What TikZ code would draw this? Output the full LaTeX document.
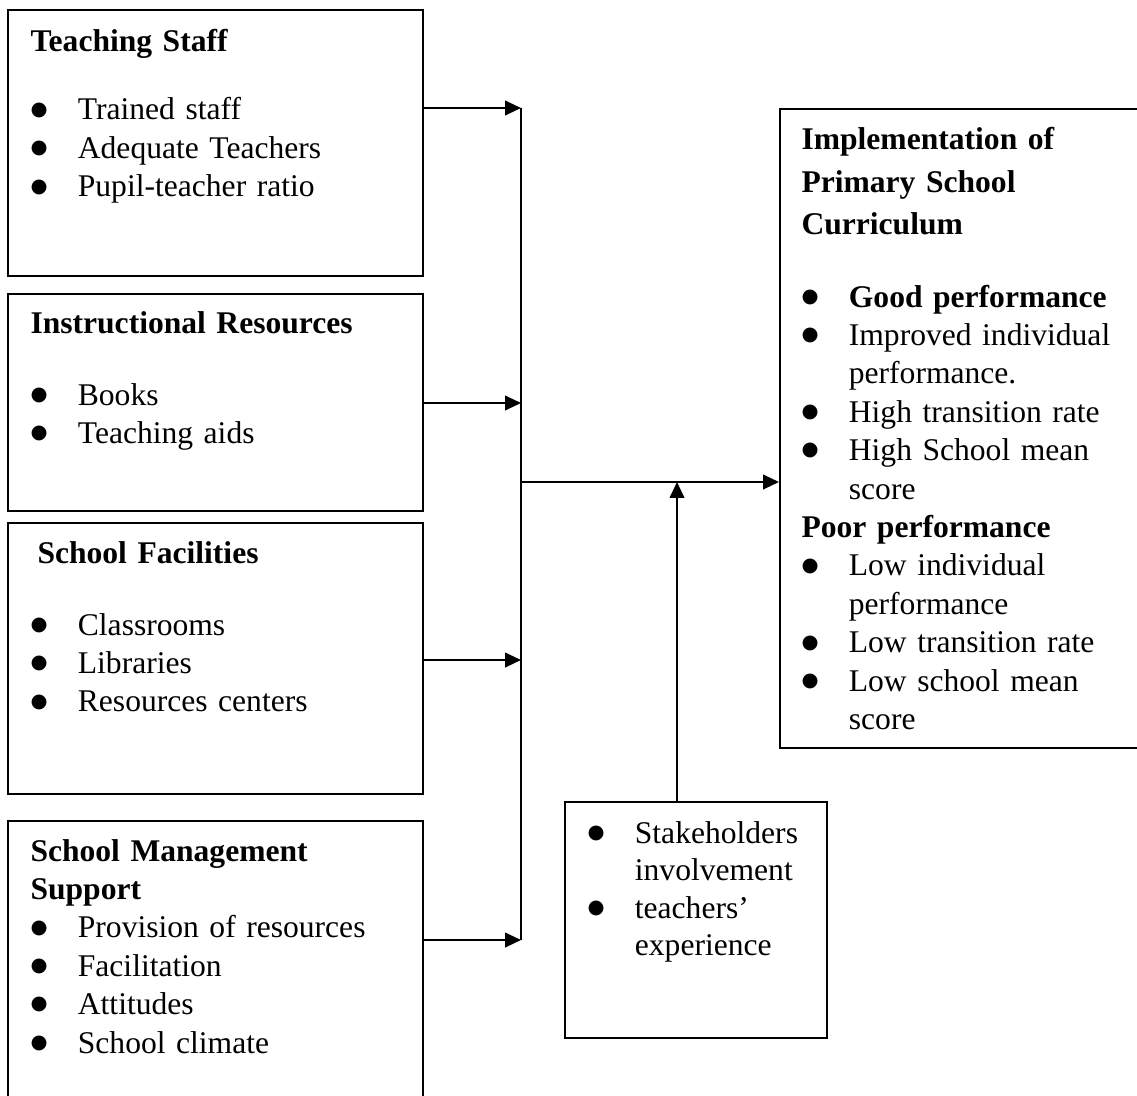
\documentclass[tikz,border=0pt]{standalone}
\usepackage{fontspec}
\setmainfont{Liberation Serif}
\newfontfamily\bulfont{DejaVu Sans}
\usetikzlibrary{arrows.meta,fit}

\newcommand{\bul}{\makebox[18pt][l]{\raisebox{1.8pt}{\bulfont\fontsize{7.4}{7.4}\selectfont ●}}}
\newcommand{\cont}{\hspace*{18pt}}

\tikzset{
  frame/.style={draw, line width=0.75pt, inner sep=0pt},
  txt/.style={anchor=base west, inner sep=0pt, text width=200pt, align=left,
    font=\fontsize{12}{14.6}\selectfont},
  arr/.style={line width=0.75pt, -{Triangle[length=6pt,width=5.5pt]}},
}

\begin{document}
\begin{tikzpicture}[x=0.38pt,y=-0.38pt]
\useasboundingbox (0,0) rectangle (1137,1095);
\clip (0,0) rectangle (1137,1095);

% Input boxes on the left
\node[frame, fit={(8,10) (423,276)}] (staff) {};
\node[frame, fit={(8,294) (423,511)}] (resources) {};
\node[frame, fit={(8,523) (423,794)}] (facilities) {};
\node[frame, fit={(8,821) (423,1110)}] (management) {};

% Outcome box and moderating box
\node[frame, fit={(780,109) (1150,748)}] (outcome) {};
\node[frame, fit={(565,802) (827,1038)}] (stake) {};

% Texts
\node[txt] (staffhead) at (30,52) {\textbf{Teaching Staff}};
\node[txt] (stafflist) at (30,120) {\bul Trained staff\\ \bul Adequate Teachers\\ \bul Pupil-teacher ratio};

\node[txt] (reshead) at (30,333) {\textbf{Instructional Resources}};
\node[txt] (reslist) at (30,405) {\bul Books\\ \bul Teaching aids};

\node[txt] (fachead) at (37,563) {\textbf{School Facilities}};
\node[txt] (faclist) at (30,635) {\bul Classrooms\\ \bul Libraries\\ \bul Resources centers};

\node[txt] (mgmtlist) at (30,861) {\textbf{School Management}\\ \textbf{Support}\\
  \bul Provision of resources\\ \bul Facilitation\\ \bul Attitudes\\ \bul School climate};

\node[txt, font=\fontsize{12}{16}\selectfont] (outhead) at (801,150)
  {\textbf{Implementation of}\\ \textbf{Primary School}\\ \textbf{Curriculum}};
\node[txt] (outlist) at (801,307) {\bul \textbf{Good performance}\\ \bul Improved individual\\
  \cont performance.\\ \bul High transition rate\\ \bul High School mean\\ \cont score\\
  \textbf{Poor performance}\\ \bul Low individual\\ \cont performance\\ \bul Low transition rate\\
  \bul Low school mean\\ \cont score};

\node[txt, font=\fontsize{12}{14.3}\selectfont] (stakelist) at (587,843)
  {\bul Stakeholders\\ \cont involvement\\ \bul teachers’\\ \cont experience};

% Collecting line and arrows
\coordinate (b1) at (521,108);
\coordinate (b2) at (521,403);
\coordinate (b3) at (521,660);
\coordinate (b4) at (521,940);
\coordinate (bm) at (521,482);
\coordinate (jn) at (677,482);

\draw[line width=0.75pt] (b1) -- (b4);
\draw[arr] (b1 -| staff.east) -- (b1);
\draw[arr] (b2 -| resources.east) -- (b2);
\draw[arr] (b3 -| facilities.east) -- (b3);
\draw[arr] (b4 -| management.east) -- (b4);
\draw[arr] (bm) -- (bm -| outcome.west);
\draw[arr] (jn |- stake.north) -- (jn);

\end{tikzpicture}
\end{document}
